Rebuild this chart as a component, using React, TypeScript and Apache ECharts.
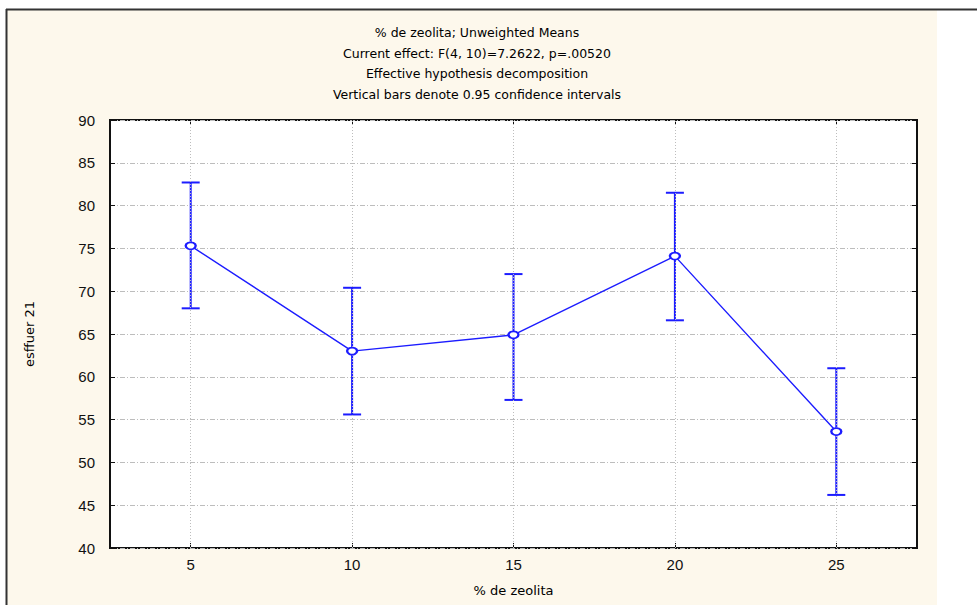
import React, { useEffect, useRef } from "react";
import * as echarts from "echarts";

// % de zeolita levels and the unweighted means with 0.95 confidence limits
const categories = ["5", "10", "15", "20", "25"];
const means = [75.3, 63.0, 64.9, 74.1, 53.6];
const upper = [82.7, 70.4, 72.0, 81.5, 61.0];
const lower = [68.0, 55.6, 57.3, 66.6, 46.2];

const titleLines = [
  "% de zeolita; Unweighted Means",
  "Current effect: F(4, 10)=7.2622, p=.00520",
  "Effective hypothesis decomposition",
  "Vertical bars denote 0.95 confidence intervals",
];

const xName = "% de zeolita";
const yName = "esffuer 21";

const BLUE = "#1c1cff";
const FONT = "'Liberation Sans', Arial, sans-serif";
const WIDE_FONT = "'DejaVu Sans', Verdana, sans-serif";

export default function App() {
  const ref = useRef<HTMLDivElement>(null);

  useEffect(() => {
    document.body.style.margin = "0";
    const chart = echarts.init(ref.current!, null, { renderer: "svg" });

    const tickStyle = { show: true, inside: true, length: 5, lineStyle: { color: "#111", width: 1 } };

    chart.setOption({
      animation: false,
      backgroundColor: "#ffffff",
      graphic: [
        {
          type: "rect",
          z: -10,
          shape: { x: 7, y: 10, width: 930, height: 595 },
          style: { fill: "#fdf8ec" },
          silent: true,
        },
        {
          type: "line",
          z: -9,
          shape: { x1: 6, y1: 9.5, x2: 977, y2: 9.5 },
          style: { stroke: "#333", lineWidth: 2 },
          silent: true,
        },
        {
          type: "line",
          z: -9,
          shape: { x1: 6.5, y1: 9, x2: 6.5, y2: 605 },
          style: { stroke: "#333", lineWidth: 2 },
          silent: true,
        },
      ],
      title: {
        text: titleLines.join("\n"),
        left: 472,
        top: 17,
        textAlign: "center",
        textStyle: {
          fontFamily: WIDE_FONT,
          fontSize: 12.5,
          fontWeight: "normal",
          color: "#000",
          lineHeight: 20.7,
        },
      },
      grid: {
        left: 110,
        top: 120,
        right: 60,
        bottom: 57,
        show: true,
        backgroundColor: "#ffffff",
        borderColor: "#111",
        borderWidth: 2,
      },
      xAxis: [
        {
          type: "category",
          data: categories,
          boundaryGap: true,
          position: "bottom",
          axisLine: { show: false },
          axisTick: { ...tickStyle, alignWithLabel: true },
          axisLabel: { fontFamily: FONT, fontSize: 15, color: "#111", margin: 9 },
          splitLine: { show: false },
          name: xName,
          nameLocation: "middle",
          nameGap: 36,
          nameTextStyle: { fontFamily: WIDE_FONT, fontSize: 13, color: "#000" },
        },
        {
          type: "category",
          data: categories,
          boundaryGap: true,
          position: "top",
          axisLine: { show: false },
          axisTick: { ...tickStyle, alignWithLabel: true },
          axisLabel: { show: false },
          splitLine: { show: false },
        },
      ],
      yAxis: [
        {
          type: "value",
          min: 40,
          max: 90,
          interval: 5,
          position: "left",
          axisLine: { show: false },
          axisTick: tickStyle,
          axisLabel: { fontFamily: FONT, fontSize: 15, color: "#111", margin: 15 },
          splitLine: { show: true, lineStyle: { color: "#bdbdbd", width: 1, type: [5, 2, 1, 2] } },
          name: yName,
          nameLocation: "middle",
          nameGap: 74,
          nameTextStyle: { fontFamily: WIDE_FONT, fontSize: 13, color: "#000" },
        },
        {
          type: "value",
          min: 40,
          max: 90,
          interval: 5,
          position: "right",
          axisLine: { show: false },
          axisTick: tickStyle,
          axisLabel: { show: false },
          splitLine: { show: false },
        },
      ],
      series: [
        {
          // vertical dotted grid at each level
          type: "line",
          data: [],
          z: 1,
          silent: true,
          markLine: {
            silent: true,
            symbol: "none",
            label: { show: false },
            lineStyle: { color: "#bdbdbd", width: 1, type: [1, 2] },
            data: categories.map((c) => ({ xAxis: c })),
          },
        },
        {
          // confidence interval bars
          type: "custom",
          z: 3,
          silent: true,
          data: categories.map((_, i) => [i, lower[i], upper[i]]),
          renderItem: (params: any, api: any) => {
            const lo = api.coord([api.value(0), api.value(1)]);
            const hi = api.coord([api.value(0), api.value(2)]);
            const half = 9;
            const style = { stroke: BLUE, lineWidth: 2 };
            return {
              type: "group",
              children: [
                { type: "line", shape: { x1: lo[0], y1: lo[1], x2: hi[0], y2: hi[1] }, style },
                { type: "line", shape: { x1: hi[0] - half, y1: hi[1], x2: hi[0] + half, y2: hi[1] }, style },
                { type: "line", shape: { x1: lo[0] - half, y1: lo[1], x2: lo[0] + half, y2: lo[1] }, style },
              ],
            };
          },
        },
        {
          type: "line",
          z: 5,
          data: means,
          symbol: "emptyCircle",
          symbolSize: [10, 7],
          lineStyle: { color: BLUE, width: 1.4 },
          itemStyle: { color: BLUE, borderWidth: 1.5 },
        },
      ],
    });

    return () => chart.dispose();
  }, []);

  return <div ref={ref} style={{ width: 977, height: 605 }} />;
}
